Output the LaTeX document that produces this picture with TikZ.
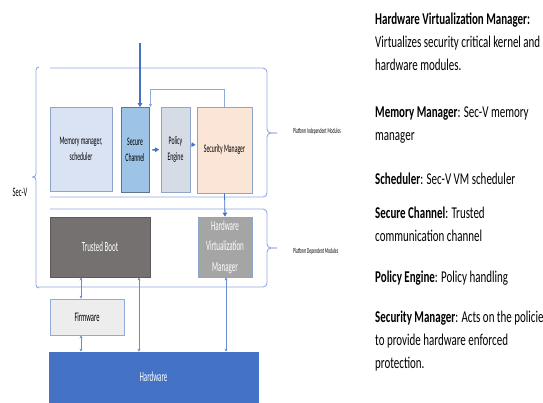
\documentclass[tikz,border=0pt]{standalone}
\usepackage{fontspec}
\setmainfont[FakeStretch=0.665]{Carlito}
\newfontfamily\boxfont[FakeStretch=0.5]{Carlito}
\usepackage{tikz}
\usetikzlibrary{
  arrows.meta,
  calc
}
\definecolor{memoryFill}{HTML}{DAE3F3}
\definecolor{channelFill}{HTML}{9DC3E6}
\definecolor{policyFill}{HTML}{D6DCE5}
\definecolor{securityFill}{HTML}{FBE5D6}
\definecolor{bootFill}{HTML}{767171}
\definecolor{hvmFill}{HTML}{A5A5A5}
\definecolor{firmwareFill}{HTML}{EDEDED}
\definecolor{hardwareBlue}{HTML}{4472C4}
\definecolor{bracketBlue}{HTML}{8FAADC}
\definecolor{edgeBlue}{HTML}{8EA4C8}
\tikzset{
  every module/.style={draw=edgeBlue,line width=0.8pt},
}

\begin{document}
\begin{tikzpicture}[
  x=1pt, y=-1pt,
  module/.style={every module, inner sep=1pt, align=center,
    font=\boxfont\fontsize{11.5}{16}\selectfont},
  bigmodule/.style={module, font=\boxfont\fontsize{14}{20.5}\selectfont, text=white},
  bracket/.style={draw=bracketBlue, line width=0.9pt, rounded corners=4pt},
  flow/.style={draw=hardwareBlue, line width=1.4pt, -{Triangle[length=4pt,width=4.5pt]}},
  feedback/.style={draw=bracketBlue, line width=0.9pt, -{Triangle[length=3pt,width=3pt]}},
  link/.style={draw=hardwareBlue!80, line width=0.5pt, {Stealth[length=3pt,width=3pt]}-{Stealth[length=3pt,width=3pt]}},
  tag/.style={inner sep=0pt, anchor=west, font=\boxfont\fontsize{7.5}{9}\selectfont},
  note/.style={anchor=north west, inner sep=0pt, align=left,
    font=\fontsize{16.5}{23}\selectfont},
]
\useasboundingbox (0,0) rectangle (543,402);

% platform independent modules
\node[module, fill=memoryFill, minimum width=62pt, minimum height=84pt] (mem) at (81,149) {Memory manager,\\scheduler};
\node[module, fill=channelFill, draw=channelFill!60!black, minimum width=28pt, minimum height=85pt] (chan) at (135,150) {Secure\\Channel};
\node[module, fill=policyFill, minimum width=29pt, minimum height=85pt] (pol) at (175.5,149.5) {Policy\\Engine};
\node[module, fill=securityFill, minimum width=55pt, minimum height=86pt] (sec) at (224.5,150) {Security Manager};

% platform dependent modules
\node[bigmodule, fill=bootFill, draw=bootFill!80!black, minimum width=100pt, minimum height=60pt] (boot) at (100,247) {Trusted Boot};
\node[bigmodule, fill=hvmFill, minimum width=54pt, minimum height=60pt] (hvm) at (225,247) {Hardware\\Virtualization\\Manager};

\node[module, fill=firmwareFill, draw=bracketBlue, font=\boxfont\fontsize{13}{16}\selectfont, minimum width=74pt, minimum height=36pt] (fw) at (87,317) {Firmware};
\node[bigmodule, fill=hardwareBlue, draw=hardwareBlue, minimum width=209pt, minimum height=50pt] (hw) at (153.5,377) {Hardware};

% brackets
\coordinate (piTip) at (277,133);
\coordinate (pdTip) at (277,248);
\coordinate (secTip) at (32,177);
\draw[bracket] (50,68) -- (267,68) -- (267,133) -- (piTip);
\draw[bracket] (50,197) -- (267,197) -- (267,133) -- (piTip);
\draw[bracket] (50,209) -- (267,209) -- (267,248) -- (pdTip);
\draw[bracket] (38,287) -- (267,287) -- (267,248) -- (pdTip);
\draw[bracket, rounded corners=3pt] (39,67) -- (36,67) -- (36,177) -- (secTip);
\draw[bracket, rounded corners=3pt] (39,288) -- (36,288) -- (36,177) -- (secTip);

\node[tag] (piLabel) at (293,131) {Platform Independent Modules};
\node[tag] (pdLabel) at (293,251) {Platform Dependent Modules};
\node[font=\boxfont\fontsize{13}{15}\selectfont, inner sep=0pt] (secv) at (20,192) {Sec-V};

% flows
\coordinate (entry) at (140,43);
\draw[flow] (entry) -- (entry |- chan.north);
\draw[flow, line width=1.6pt, shorten <=3pt, shorten >=1.5pt] (chan.east) -- (pol.west);
\draw[flow, line width=1.6pt, shorten <=1pt, shorten >=1pt] ([yshift=5pt]pol.east) -- ([yshift=5pt]sec.west);
\draw[feedback] (sec.north) -- ++(0,-17) -| ([xshift=1pt]chan.north east);
\draw[flow, line width=0.8pt] (sec.south) -- (hvm.north);

\coordinate (c1) at (81,0);
\coordinate (c2) at (139,0);
\coordinate (c3) at (226,0);
\draw[link] (c1 |- boot.south) -- (c1 |- fw.north);
\draw[link] (c1 |- fw.south) -- (c1 |- hw.north);
\draw[link] (c2 |- boot.south) -- (c2 |- hw.north);
\draw[link] (c3 |- hvm.south) -- (c3 |- hw.north);

% legend
\node[note] (nHvm) at (375,12.5) {\textbf{Hardware Virtualization Manager:}\\Virtualizes security critical kernel and\\hardware modules.};
\node[note] (nMem) at (375,106.5) {\textbf{Memory Manager}: Sec-V memory\\manager};
\node[note] (nSched) at (375,172.5) {\textbf{Scheduler}: Sec-V VM scheduler};
\node[note] (nChan) at (375,206.5) {\textbf{Secure Channel}: Trusted\\communication channel};
\node[note] (nPol) at (375,270.5) {\textbf{Policy Engine}: Policy handling};
\node[note] (nSec) at (375,310.5) {\textbf{Security Manager}: Acts on the policie\\to provide hardware enforced\\protection.};
\end{tikzpicture}
\end{document}
